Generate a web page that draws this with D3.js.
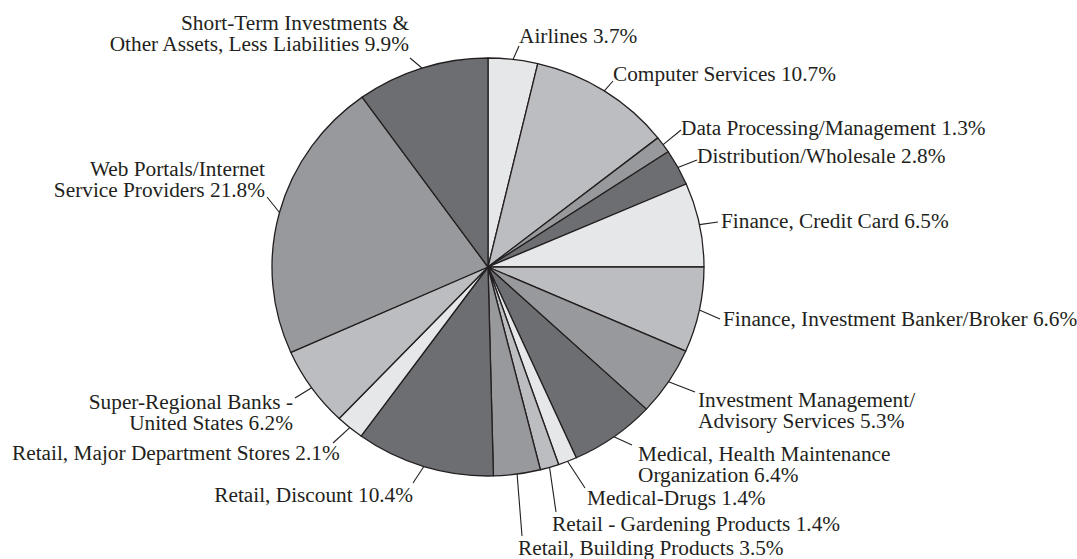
<!DOCTYPE html>
<html>
<head>
<meta charset="utf-8">
<script src="https://cdn.jsdelivr.net/npm/d3@7"></script>
<style>
  body { margin: 0; background: #fff; }
  text { font-family: "Liberation Serif", "Times New Roman", serif; fill: #231f20; }
</style>
</head>
<body>
<div id="chart"></div>
<script>
// sectors, clockwise from 12 o'clock
const sectors = [
  "Airlines", "Computer Services", "Data Processing/Management", "Distribution/Wholesale",
  "Finance, Credit Card", "Finance, Investment Banker/Broker", "Investment Management/Advisory Services",
  "Medical, Health Maintenance Organization", "Medical-Drugs", "Retail - Gardening Products",
  "Retail, Building Products", "Retail, Discount", "Retail, Major Department Stores",
  "Super-Regional Banks - United States", "Web Portals/Internet Service Providers",
  "Short-Term Investments & Other Assets, Less Liabilities"
];
const weights = [3.7, 10.7, 1.3, 2.8, 6.5, 6.6, 5.3, 6.4, 1.4, 1.4, 3.5, 10.4, 2.1, 6.2, 21.8, 9.9];
// label text, line by line
const labelLines = [
  ["Airlines 3.7%"],
  ["Computer Services 10.7%"],
  ["Data Processing/Management 1.3%"],
  ["Distribution/Wholesale 2.8%"],
  ["Finance, Credit Card 6.5%"],
  ["Finance, Investment Banker/Broker 6.6%"],
  ["Investment Management/", "Advisory Services 5.3%"],
  ["Medical, Health Maintenance", "Organization 6.4%"],
  ["Medical-Drugs 1.4%"],
  ["Retail - Gardening Products 1.4%"],
  ["Retail, Building Products 3.5%"],
  ["Retail, Discount 10.4%"],
  ["Retail, Major Department Stores 2.1%"],
  ["Super-Regional Banks -", "United States 6.2%"],
  ["Web Portals/Internet", "Service Providers 21.8%"],
  ["Short-Term Investments &", "Other Assets, Less Liabilities 9.9%"]
];
const shades = ["#e6e7e8", "#bcbdc0", "#98999c", "#6d6e71"];

// label layout: text anchor [x, baseline], anchor side, leader end
const labelPos = [
  {x: 519, y: 43, a: "start", end: [519, 46]},
  {x: 613, y: 81, a: "start", end: [613, 81]},
  {x: 681, y: 135, a: "start", end: [681, 130]},
  {x: 697, y: 163, a: "start", end: [697, 160]},
  {x: 721, y: 228, a: "start", end: [718, 222]},
  {x: 723, y: 326, a: "start", end: [720, 319]},
  {x: 698, y: 407, a: "start", end: [695, 392]},
  {x: 638, y: 461, a: "start", end: [632, 445]},
  {x: 587, y: 505, a: "start", end: [585, 488]},
  {x: 552, y: 531, a: "start", end: [556, 512]},
  {x: 518, y: 555, a: "start", end: [522, 536]},
  {x: 413, y: 502, a: "end", end: [413, 483]},
  {x: 12, y: 460, a: "start", end: [333, 443]},
  {x: 293, y: 409, a: "end", end: [295, 398]},
  {x: 265, y: 176, a: "end", end: [267, 197]},
  {x: 409, y: 30, a: "end", end: [410, 58]}
];

const width = 1077, height = 559;
const cx = 488, cy = 267, rx = 216, ry = 209;
const lineGap = 20.5;

const svg = d3.select("#chart").append("svg")
  .attr("width", width)
  .attr("height", height);

const data = sectors.map((s, i) => ({name: s, value: weights[i], idx: i}));
const pie = d3.pie().value(d => d.value).sort(null);
const arcs = pie(data);
const arc = d3.arc().innerRadius(0).outerRadius(rx);

const g = svg.append("g")
  .attr("transform", `translate(${cx},${cy}) scale(1,${ry / rx})`);

g.selectAll("path")
  .data(arcs)
  .join("path")
  .attr("d", arc)
  .attr("fill", d => shades[d.index % 4])
  .attr("stroke", "#231f20")
  .attr("stroke-width", 1.3)
  .attr("stroke-linejoin", "round")
  .attr("vector-effect", "non-scaling-stroke");

// leader lines from slice mid-angle on the rim
svg.selectAll("line.leader")
  .data(arcs)
  .join("line")
  .attr("class", "leader")
  .attr("x1", d => cx + rx * Math.sin((d.startAngle + d.endAngle) / 2))
  .attr("y1", d => cy - ry * Math.cos((d.startAngle + d.endAngle) / 2))
  .attr("x2", d => labelPos[d.index].end[0])
  .attr("y2", d => labelPos[d.index].end[1])
  .attr("stroke", "#231f20")
  .attr("stroke-width", 1.1);

const labels = svg.selectAll("text.label")
  .data(arcs)
  .join("text")
  .attr("class", "label")
  .attr("font-size", 21.3)
  .attr("text-anchor", d => labelPos[d.index].a);

labels.selectAll("tspan")
  .data(d => labelLines[d.index].map((t, k) => ({t, k, p: labelPos[d.index]})))
  .join("tspan")
  .attr("x", d => d.p.x)
  .attr("y", d => d.p.y + d.k * lineGap)
  .text(d => d.t);
</script>
</body>
</html>
